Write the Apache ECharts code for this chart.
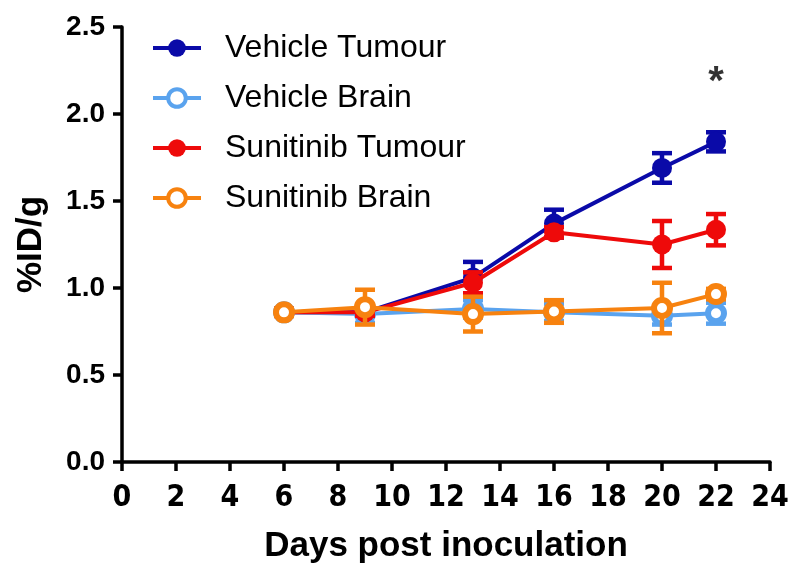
<!DOCTYPE html>
<html><head><meta charset="utf-8">
<script src="https://cdn.jsdelivr.net/npm/echarts@6/dist/echarts.min.js"></script>
<style>html,body{margin:0;padding:0;background:#fff}#c{width:800px;height:573px}</style>
</head><body><div id="c"></div>
<script>
const days = [6, 9, 13, 16, 20, 22];
const vehicleTumour = [0.86, 0.86, 1.06, 1.37, 1.69, 1.84];
const vehicleTumourSem = [0.02, 0.02, 0.09, 0.08, 0.085, 0.055];
const vehicleBrain = [0.86, 0.85, 0.88, 0.86, 0.84, 0.855];
const vehicleBrainSem = [0.02, 0.05, 0.05, 0.05, 0.05, 0.06];
const sunitinibTumour = [0.86, 0.86, 1.03, 1.32, 1.25, 1.335];
const sunitinibTumourSem = [0.02, 0.02, 0.06, 0.03, 0.135, 0.09];
const sunitinibBrain = [0.86, 0.89, 0.85, 0.865, 0.885, 0.965];
const sunitinibBrainSem = [0.02, 0.10, 0.10, 0.065, 0.145, 0.03];
const xTicks = [0, 2, 4, 6, 8, 10, 12, 14, 16, 18, 20, 22, 24];
const yTicks = [0.0, 0.5, 1.0, 1.5, 2.0, 2.5];
const starDay = 22, starValue = 2.18;

const defs = [
  {name: 'Vehicle Tumour', vals: vehicleTumour, sem: vehicleTumourSem, color: '#0a0aa8', filled: true},
  {name: 'Vehicle Brain', vals: vehicleBrain, sem: vehicleBrainSem, color: '#5aa3ee', filled: false},
  {name: 'Sunitinib Tumour', vals: sunitinibTumour, sem: sunitinibTumourSem, color: '#ee0a0a', filled: true},
  {name: 'Sunitinib Brain', vals: sunitinibBrain, sem: sunitinibBrainSem, color: '#f7820f', filled: false}
];

const series = [];
defs.forEach((d, i) => {
  series.push({
    type: 'custom', name: d.name + ' err', z: 2 + i * 2,
    data: days.map((x, k) => [x, d.vals[k] - d.sem[k], d.vals[k] + d.sem[k]]),
    renderItem: function (params, api) {
      const lo = api.coord([api.value(0), api.value(1)]);
      const hi = api.coord([api.value(0), api.value(2)]);
      const w = 10;
      const st = {stroke: d.color, lineWidth: 4.5};
      return {type: 'group', children: [
        {type: 'line', shape: {x1: lo[0], y1: lo[1], x2: hi[0], y2: hi[1]}, style: st},
        {type: 'line', shape: {x1: lo[0] - w, y1: lo[1], x2: lo[0] + w, y2: lo[1]}, style: st},
        {type: 'line', shape: {x1: hi[0] - w, y1: hi[1], x2: hi[0] + w, y2: hi[1]}, style: st}
      ]};
    },
    silent: true
  });
  series.push({
    type: 'line', name: d.name, z: 3 + i * 2,
    data: days.map((x, k) => [x, d.vals[k]]),
    symbol: 'circle',
    symbolSize: d.filled ? 20 : 16,
    lineStyle: {color: d.color, width: 4},
    itemStyle: d.filled ? {color: d.color} : {color: '#ffffff', borderColor: d.color, borderWidth: 6},
    emphasis: {disabled: true}
  });
});
series.push({
  type: 'scatter', name: 'star', data: [[starDay, starValue]], symbolSize: 0,
  label: {show: true, formatter: '*', color: '#000', fontSize: 40, fontWeight: 'bold', fontFamily: 'Liberation Sans', position: 'inside'},
  silent: true
});

const chart = echarts.init(document.getElementById('c'), null, {renderer: 'canvas'});
chart.setOption({
  animation: false,
  backgroundColor: '#fff',
  grid: {left: 122, right: 30, top: 27, bottom: 111},
  legend: {
    data: defs.map(d => d.name),
    orient: 'vertical', left: 146, top: 26,
    itemWidth: 48, itemHeight: 22, itemGap: 16,
    lineStyle: {width: 4},
    itemStyle: {borderWidth: 4},
    textStyle: {fontSize: 32, lineHeight: 34, fontFamily: 'Liberation Sans', color: '#000', padding: [0, 0, 0, 19]}
  },
  xAxis: {
    type: 'value', min: 0, max: 24, interval: 2,
    name: 'Days post inoculation', nameLocation: 'middle', nameGap: 67,
    nameTextStyle: {fontSize: 35, fontWeight: 'bold', fontFamily: 'Liberation Sans', color: '#000'},
    axisLine: {lineStyle: {color: '#000', width: 3.5}},
    axisTick: {length: 9, lineStyle: {color: '#000', width: 3.5}},
    axisLabel: {fontSize: 30, fontWeight: 'bold', fontFamily: "'Liberation Sans Narrow', 'DejaVu Sans Condensed', sans-serif", color: '#000', margin: 21,
      formatter: v => xTicks.includes(v) ? String(v) : ''},
    splitLine: {show: false}
  },
  yAxis: {
    type: 'value', min: 0, max: 2.5, interval: 0.5,
    name: '%ID/g', nameLocation: 'middle', nameGap: 73,
    nameTextStyle: {fontSize: 35, fontWeight: 'bold', fontFamily: 'Liberation Sans', color: '#000'},
    axisLine: {show: true, lineStyle: {color: '#000', width: 3.5}},
    axisTick: {show: true, length: 9, lineStyle: {color: '#000', width: 3.5}},
    axisLabel: {fontSize: 28, fontWeight: 'bold', fontFamily: 'Liberation Sans', color: '#000', margin: 17,
      formatter: v => { const t = yTicks.find(y => Math.abs(y - v) < 1e-9); return t === undefined ? '' : t.toFixed(1); }},
    splitLine: {show: false}
  },
  series: series
});
</script></body></html>
